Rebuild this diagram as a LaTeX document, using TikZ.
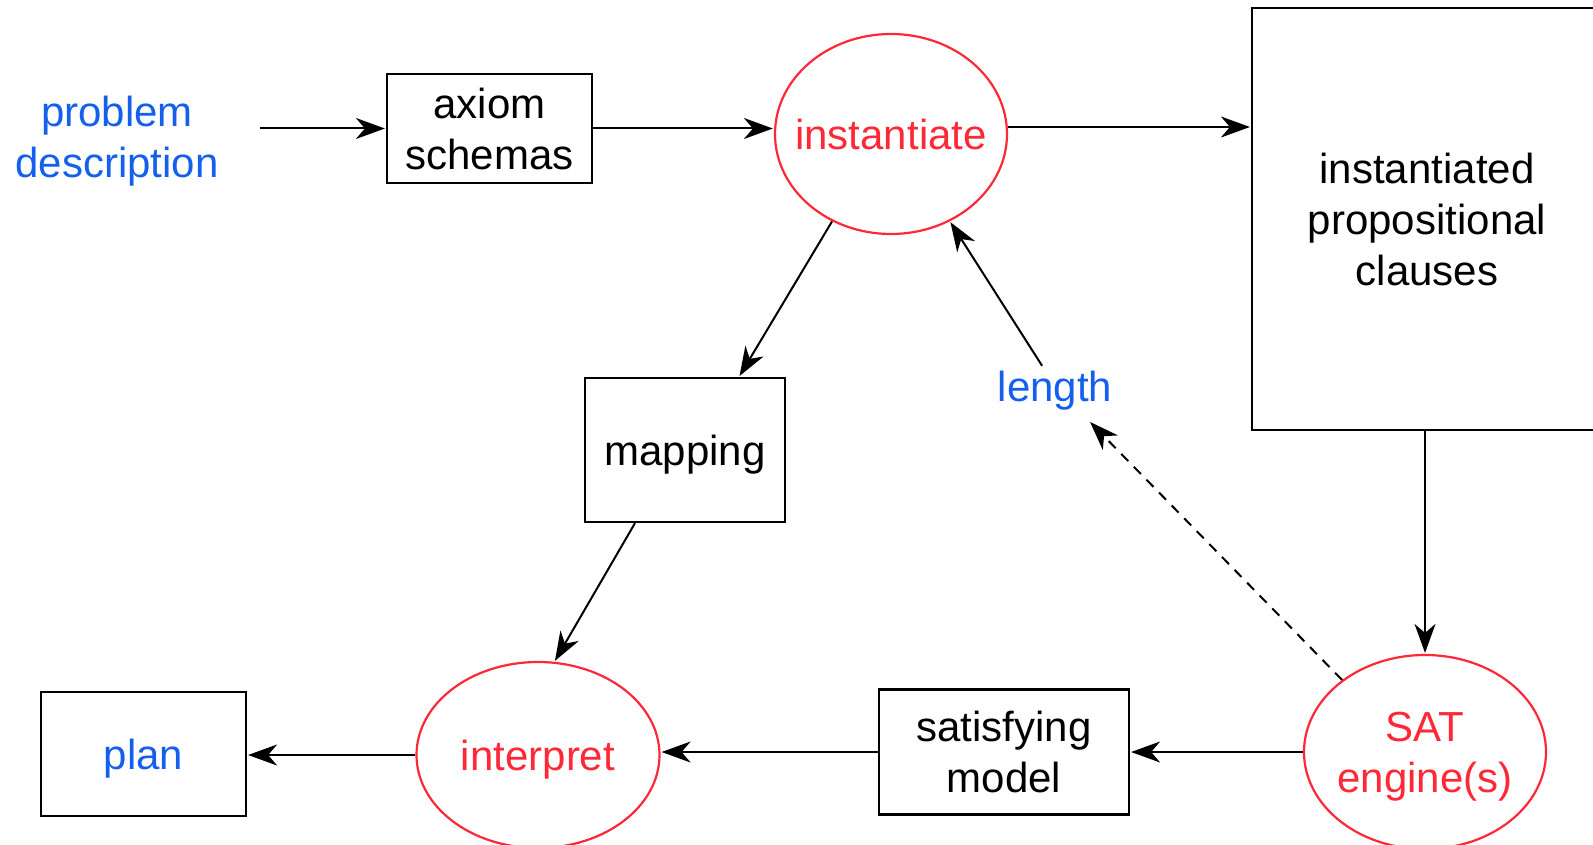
\documentclass[tikz,border=0pt]{standalone}
\usepackage{fontspec}
\setmainfont{Liberation Sans}
\usetikzlibrary{arrows.meta,shapes.geometric,positioning}

\definecolor{ovalred}{RGB}{255,40,55}
\definecolor{textblue}{RGB}{20,95,235}

\begin{document}
\begin{tikzpicture}[x=1pt,y=-1pt,line width=2pt,shorten >=1pt,
    >={Stealth[length=29pt,width=21pt,inset=9pt]},
    every node/.style={font=\fontsize{42}{51}\selectfont,align=center,inner sep=0pt,text depth=0pt},
    box/.style={draw,rectangle,line width=2.2pt},
    oval/.style={draw=ovalred,text=ovalred,ellipse,line width=2.2pt,inner xsep=-20pt,minimum width=242pt},
    blue/.style={text=textblue}]
   \path[use as bounding box,clip] (0,0) rectangle (1593,845);

   \node[blue] (prob) at (117,137) {problem\\description};
   \node[box,minimum width=205pt,minimum height=109pt] (axiom) at (489.5,128.5) {axiom\\schemas};
   \node[oval,minimum width=232pt,minimum height=200pt] (inst) at (891,134) {instantiate};
   \node[box,minimum width=350pt,minimum height=422pt] (clauses) at (1427,219) {instantiated\\propositional\\clauses};
   \node[box,minimum width=200pt,minimum height=144pt] (map) at (685,450) {mapping};
   \node[blue,inner sep=4pt] (len) at (1055,386) {length};
   \node[oval,minimum height=194pt] (sat) at (1425,752) {SAT\\engine(s)};
   \node[box,minimum width=250pt,minimum height=125pt] (model) at (1004,752) {satisfying\\model};
   \node[oval,minimum width=243pt,minimum height=186pt] (interp) at (538,755) {interpret};
   \node[box,blue,minimum width=205pt,minimum height=124pt] (plan) at (143.5,754) {plan};

   \path[->]
    (prob.east |- axiom.west) edge[shorten <=40pt] (axiom)
    (axiom.east) edge (axiom.east -| inst.west)
    ([yshift=7pt]inst.east) edge ([yshift=92pt]clauses.west)
    (inst.-124) edge ([xshift=54pt]map.north)
    ([xshift=-50pt]map.south) edge (interp.80)
    (len) edge (inst.-56)
    (clauses.south -| sat.north) edge (sat)
    (sat) edge (model)
    (model.west) edge (model.west -| interp.east)
    (interp.west) edge (interp.west -| plan.east)
    (sat.139) edge[dash pattern=on 10pt off 8pt,shorten >=22pt] (len);
\end{tikzpicture}
\end{document}
